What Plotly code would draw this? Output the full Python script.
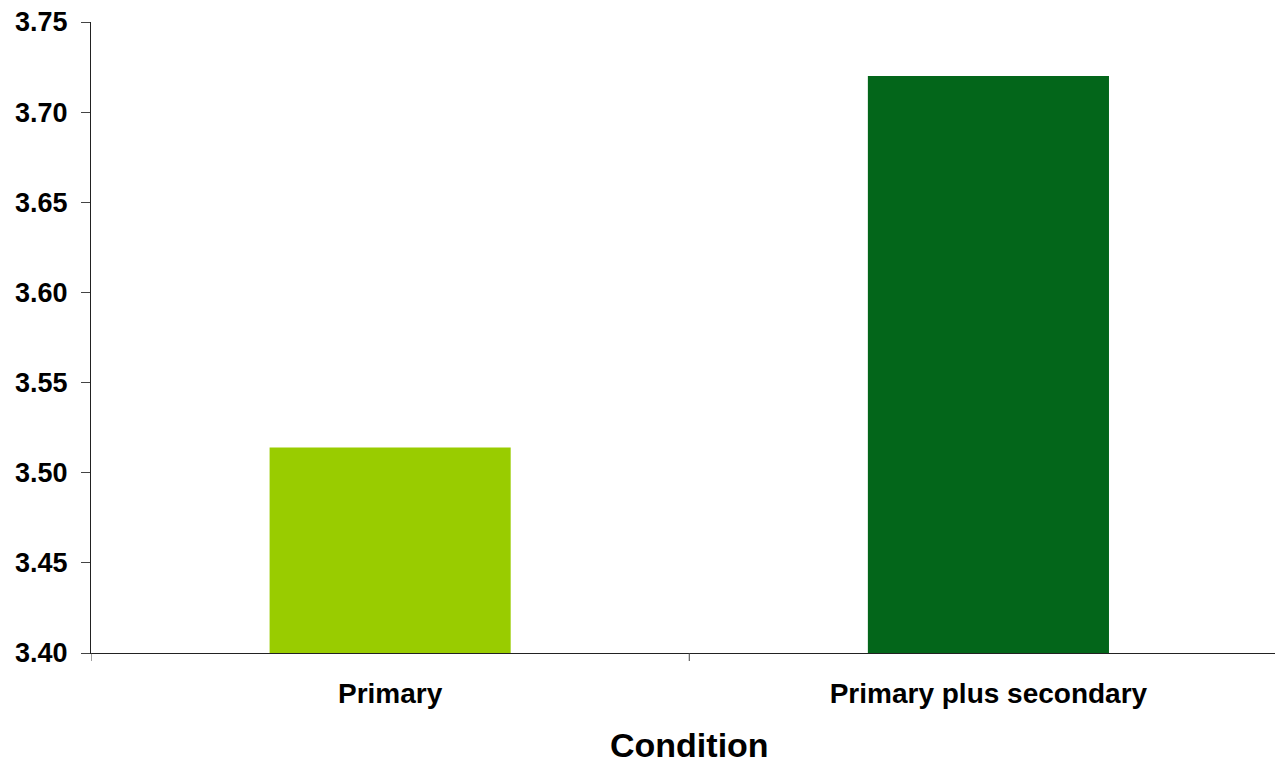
import plotly.graph_objects as go

categories = ["Primary", "Primary plus secondary"]
values = [3.514, 3.72]
bar_colors = ["#99CC00", "#03661A"]
y_ticks = [3.40, 3.45, 3.50, 3.55, 3.60, 3.65, 3.70, 3.75]
x_title = "Condition"
y_min = 3.40

FONT = "Liberation Sans, Arial, sans-serif"

fig = go.Figure()
fig.add_trace(go.Bar(
    x=[0, 1], y=[v - y_min for v in values], base=y_min,
    marker=dict(color=bar_colors, line=dict(width=0)),
    width=0.403,
))

fig.update_layout(
    width=1275, height=765,
    margin=dict(l=91, r=0, t=22, b=112, autoexpand=False),
    paper_bgcolor="white", plot_bgcolor="white",
    showlegend=False,
    font=dict(family=FONT, color="black"),
    xaxis=dict(
        range=[-0.5, 1.479], tickmode="array", tickvals=[0, 1], ticktext=categories,
        showline=True, linecolor="#222", linewidth=1,
        ticks="", showgrid=False, zeroline=False, automargin=False,
        tickfont=dict(size=28, family=FONT, color="black", weight="bold"),
        ticklabelstandoff=15,
    ),
    yaxis=dict(
        range=[3.40, 3.75], tickmode="array", tickvals=y_ticks,
        ticktext=[f"{v:.2f}" for v in y_ticks],
        showline=True, linecolor="#222", linewidth=1,
        ticks="outside", ticklen=9, tickcolor="#444", tickwidth=1,
        showgrid=False, zeroline=False, automargin=False,
        tickfont=dict(size=27, family=FONT, color="black", weight="bold"),
        ticklabelstandoff=8,
    ),
)
for xb in [-0.5, 0.5]:
    fig.add_shape(type="line", xref="x", yref="paper", x0=xb, x1=xb, y0=0, y1=-0.0127,
                  line=dict(color="#444", width=1))

fig.add_annotation(
    x=0.5, xref="x", y=-0.146, yref="paper", text=x_title, showarrow=False,
    xanchor="center", yanchor="middle",
    font=dict(size=34, family=FONT, color="black", weight="bold"),
)

fig.write_html("out.html", post_script="document.body.style.margin='0';",
               config={"displayModeBar": False})
